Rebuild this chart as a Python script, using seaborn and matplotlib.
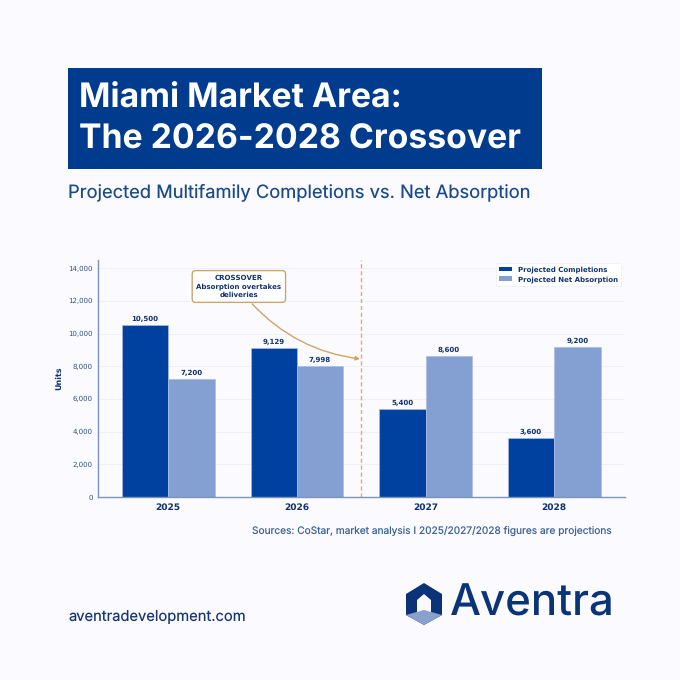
import matplotlib
matplotlib.use("Agg")
import matplotlib.pyplot as plt
from matplotlib.patches import Polygon, Rectangle
import pandas as pd
import seaborn as sns

years = ["2025", "2026", "2027", "2028"]
completions = [10500, 9129, 5400, 3600]
absorption = [7200, 7998, 8600, 9200]
series_names = ["Projected Completions", "Projected Net Absorption"]

NAVY = "#00409F"
LIGHT = "#84A0D2"
INK = "#12336B"
BG = "#FBFBFF"
GOLD = "#C9A66B"

sns.set_theme(style="white")
plt.rcParams["font.family"] = ["DejaVu Sans"]
plt.rcParams["text.hinting"] = "none"
plt.rcParams["text.hinting_factor"] = 1

W = 680
fig = plt.figure(figsize=(6.8, 6.8), dpi=100, facecolor=BG)
def px_axes(l, t, r, b):
    return [l / W, 1 - b / W, (r - l) / W, (b - t) / W]

ax = fig.add_axes(px_axes(98, 260, 625, 497), facecolor=BG)
df = pd.DataFrame({
    "Year": years * 2,
    "Units": completions + absorption,
    "Series": [series_names[0]] * 4 + [series_names[1]] * 4,
})
sns.barplot(data=df, x="Year", y="Units", hue="Series", order=years,
            hue_order=series_names, palette=[NAVY, LIGHT], width=0.72, gap=0,
            saturation=1, ax=ax, edgecolor="#A9BEE3", linewidth=0.5)

ax.set_xlim(-0.546, 3.55)
ax.set_ylim(0, 14500)
ax.set_yticks(range(0, 14001, 2000))
ax.yaxis.set_major_formatter(matplotlib.ticker.FuncFormatter(lambda v, _: f"{int(v):,}"))
ax.tick_params(axis="y", labelsize=5.2, colors="#33507F", length=2.2, width=0.7, pad=1.5)
ax.tick_params(axis="x", labelsize=6.5, length=2.2, width=0.7, colors="#6E88B0", pad=2)
for t in ax.get_xticklabels():
    t.set_fontweight("bold")
    t.set_color(INK)
ax.set_xlabel("")
ax.set_ylabel("Units", fontsize=5.9, fontweight="bold", color=INK)
ax.yaxis.set_label_coords(-0.0665, 0.5)
ax.grid(axis="y", color="#EEF0F7", linewidth=0.7)
ax.set_axisbelow(True)
for s in ("top", "right"):
    ax.spines[s].set_visible(False)
for s in ("left", "bottom"):
    ax.spines[s].set_color("#7D94BA")
    ax.spines[s].set_linewidth(1.0)

for c in ax.containers:
    ax.bar_label(c, labels=[f"{int(v):,}" for v in c.datavalues], padding=1.8,
                 fontsize=5.0, fontweight="bold", color=INK)

ax.axvline(1.5, color="#DBAE78", linestyle=(0, (3, 2)), linewidth=1.0, zorder=1)

ax.annotate("", xy=(1.49, 8450), xytext=(0.652, 11815),
            arrowprops=dict(arrowstyle="-|>", color=GOLD, lw=1.0, mutation_scale=6,
                            connectionstyle="arc3,rad=0.18", shrinkA=0, shrinkB=0))
ax.text(0.549, 12880, "CROSSOVER\nAbsorption overtakes\ndeliveries", ha="center", va="center",
        fontsize=5.15, fontweight="bold", color=INK, linespacing=1.3, zorder=6,
        bbox=dict(boxstyle="round,pad=0.58,rounding_size=0.5", fc="white", ec=GOLD, lw=1.0))

leg = ax.legend(loc="upper right", bbox_to_anchor=(0.9924, 0.987), fontsize=4.8, frameon=True,
                borderpad=0.45, labelspacing=0.42, handlelength=1.95, handletextpad=0.9,
                borderaxespad=0.0, fancybox=False, framealpha=1)
leg.get_frame().set_edgecolor("#EEF0F7")
leg.get_frame().set_linewidth(0.6)
for t in leg.get_texts():
    t.set_fontweight("bold")
    t.set_color(INK)
for h in leg.get_patches():
    h.set_linewidth(0)

# Header, footer and logo in figure pixel coordinates
to_fig = lambda x, y: (x / W, 1 - y / W)
fig.add_artist(Rectangle(to_fig(68, 169), 474 / W, 101 / W, transform=fig.transFigure,
                         fc="#003B8E", ec="none"))
for y, s in [(99, "Miami Market Area:"), (140, "The 2026-2028 Crossover")]:
    fig.text(*to_fig(79, y), s, fontsize=24.3, fontweight="bold", family="Inter",
             color="white", ha="left", va="center")
fig.text(*to_fig(68, 192), "Projected Multifamily Completions vs. Net Absorption", fontsize=13.2,
         family="Inter", color="#1A4A8A", ha="left", va="center")
fig.text(*to_fig(612, 531), "Sources: CoStar, market analysis I 2025/2027/2028 figures are projections",
         fontsize=7.3, family="Inter", color="#3E6496", ha="right", va="center")
fig.text(*to_fig(68, 617), "aventradevelopment.com", fontsize=10.6, family="Inter",
         color="#17386F", ha="left", va="center")
fig.text(*to_fig(450, 604), "Aventra", fontsize=31.5, fontweight="medium", family="Inter",
         color="#0B3478", ha="left", va="center")

LOGO = "#0B3478"
hexagon = [(424, 583), (442, 594), (442, 615), (424, 625), (406, 615), (406, 594)]
fig.add_artist(Polygon([to_fig(*p) for p in hexagon], transform=fig.transFigure, fc=LOGO, ec="none"))
door = [(424, 594), (431, 600), (431, 616), (417, 616), (417, 600)]
fig.add_artist(Polygon([to_fig(*p) for p in door], transform=fig.transFigure, fc=BG, ec="none"))
gem = [(424, 610), (442, 615), (424, 625), (406, 615)]
fig.add_artist(Polygon([to_fig(*p) for p in gem], transform=fig.transFigure, fc="#8AA0CC", ec="none"))

fig.savefig("out.png", dpi=100, facecolor=BG)
